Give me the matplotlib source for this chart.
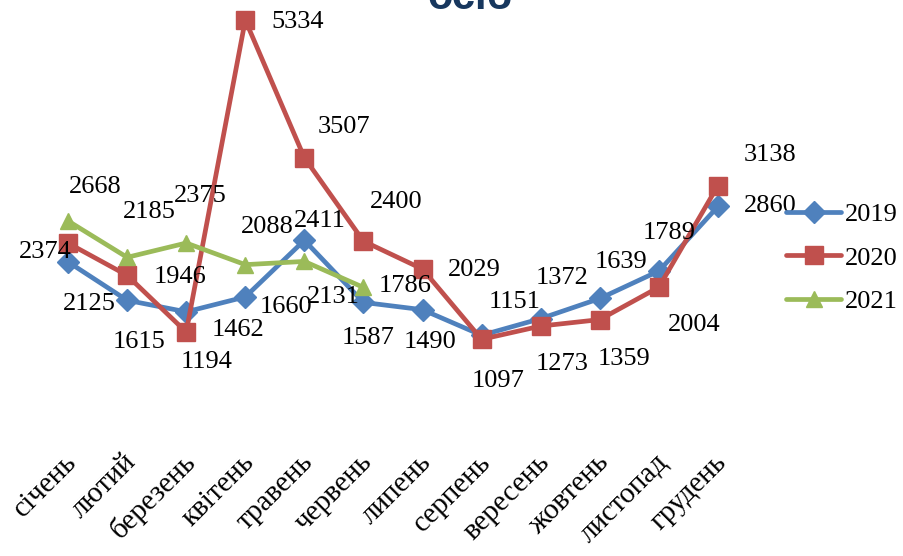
import matplotlib
matplotlib.use("Agg")
import matplotlib.pyplot as plt
import matplotlib.transforms as mtransforms

months = ["січень", "лютий", "березень", "квітень", "травень", "червень",
          "липень", "серпень", "вересень", "жовтень", "листопад", "грудень"]

y2019 = [2125, 1615, 1462, 1660, 2411, 1587, 1490, 1151, 1372, 1639, 2004, 2860]
y2020 = [2374, 1946, 1194, 5334, 3507, 2400, 2029, 1097, 1273, 1359, 1789, 3138]
y2021 = [2668, 2185, 2375, 2088, 2131, 1786]

# label offsets (pixels) copied from where the original labels sit
off2019 = [(21, -42), (12, -42), (52, -18), (41, -10), (15, 19), (5, -36),
           (8, -32), (33, 33), (21, 41), (21, 36), (35, -54), (52, 0)]
off2020 = [(-23, -9), (53, -2), (20, -30), (52, -2), (40, 31), (33, 39),
           (52, -1), (16, -42), (21, -38), (24, -39), (10, 54), (52, 31)]
off2021 = [(27, 34), (22, 45), (14, 47), (22, 38), (29, -36), (42, 1)]

blue = "#4F81BD"
red = "#C0504D"
green = "#9BBB59"

plt.rcParams['font.family'] = ['Liberation Serif', 'DejaVu Serif']

fig = plt.figure(figsize=(9.04, 5.56), dpi=100)
ax = fig.add_axes([38.5 / 904, 1 - 422 / 556, 709 / 904, 422 / 556])

x = list(range(len(months)))
series = [
    ("2019", y2019, off2019, blue, "D", 11),
    ("2020", y2020, off2020, red, "s", 13),
    ("2021", y2021, off2021, green, "^", 12),
]
for name, vals, offs, col, mk, ms in series:
    xs = x[:len(vals)]
    ax.plot(xs, vals, color=col, lw=3.4, marker=mk, markersize=ms,
            solid_capstyle='round', label=name, clip_on=False)
    for xi, v, (dx, dy) in zip(xs, vals, offs):
        ax.annotate(str(v), (xi, v), xytext=(dx, dy), textcoords='offset pixels',
                    ha='center', va='center', fontsize=19, annotation_clip=False)

ax.set_xlim(-0.5, 11.5)
ax.set_ylim(0, 5600)
ax.set_yticks([])
ax.set_xticks(x)
ax.set_xticklabels(months, rotation=45, ha='right', va='center',
                   rotation_mode='anchor', fontsize=21)
ax.tick_params(axis='x', length=0, pad=26)
shift = mtransforms.ScaledTranslation(5 / 100, 0, fig.dpi_scale_trans)
for lab in ax.get_xticklabels():
    lab.set_transform(lab.get_transform() + shift)
for s in ax.spines.values():
    s.set_visible(False)

fig.text(470 / 904, 1 - 9 / 556, "осіб", ha='center', va='baseline',
         fontsize=30, fontweight='bold', color="#17375E", family='Liberation Sans')

fig.legend(loc='center left', bbox_to_anchor=(786 / 904, 1 - 258 / 556),
           frameon=False, fontsize=19, handlelength=2.1, handletextpad=0.15,
           labelspacing=0.75, borderpad=0, borderaxespad=0)

fig.savefig("out.png", dpi=100)
